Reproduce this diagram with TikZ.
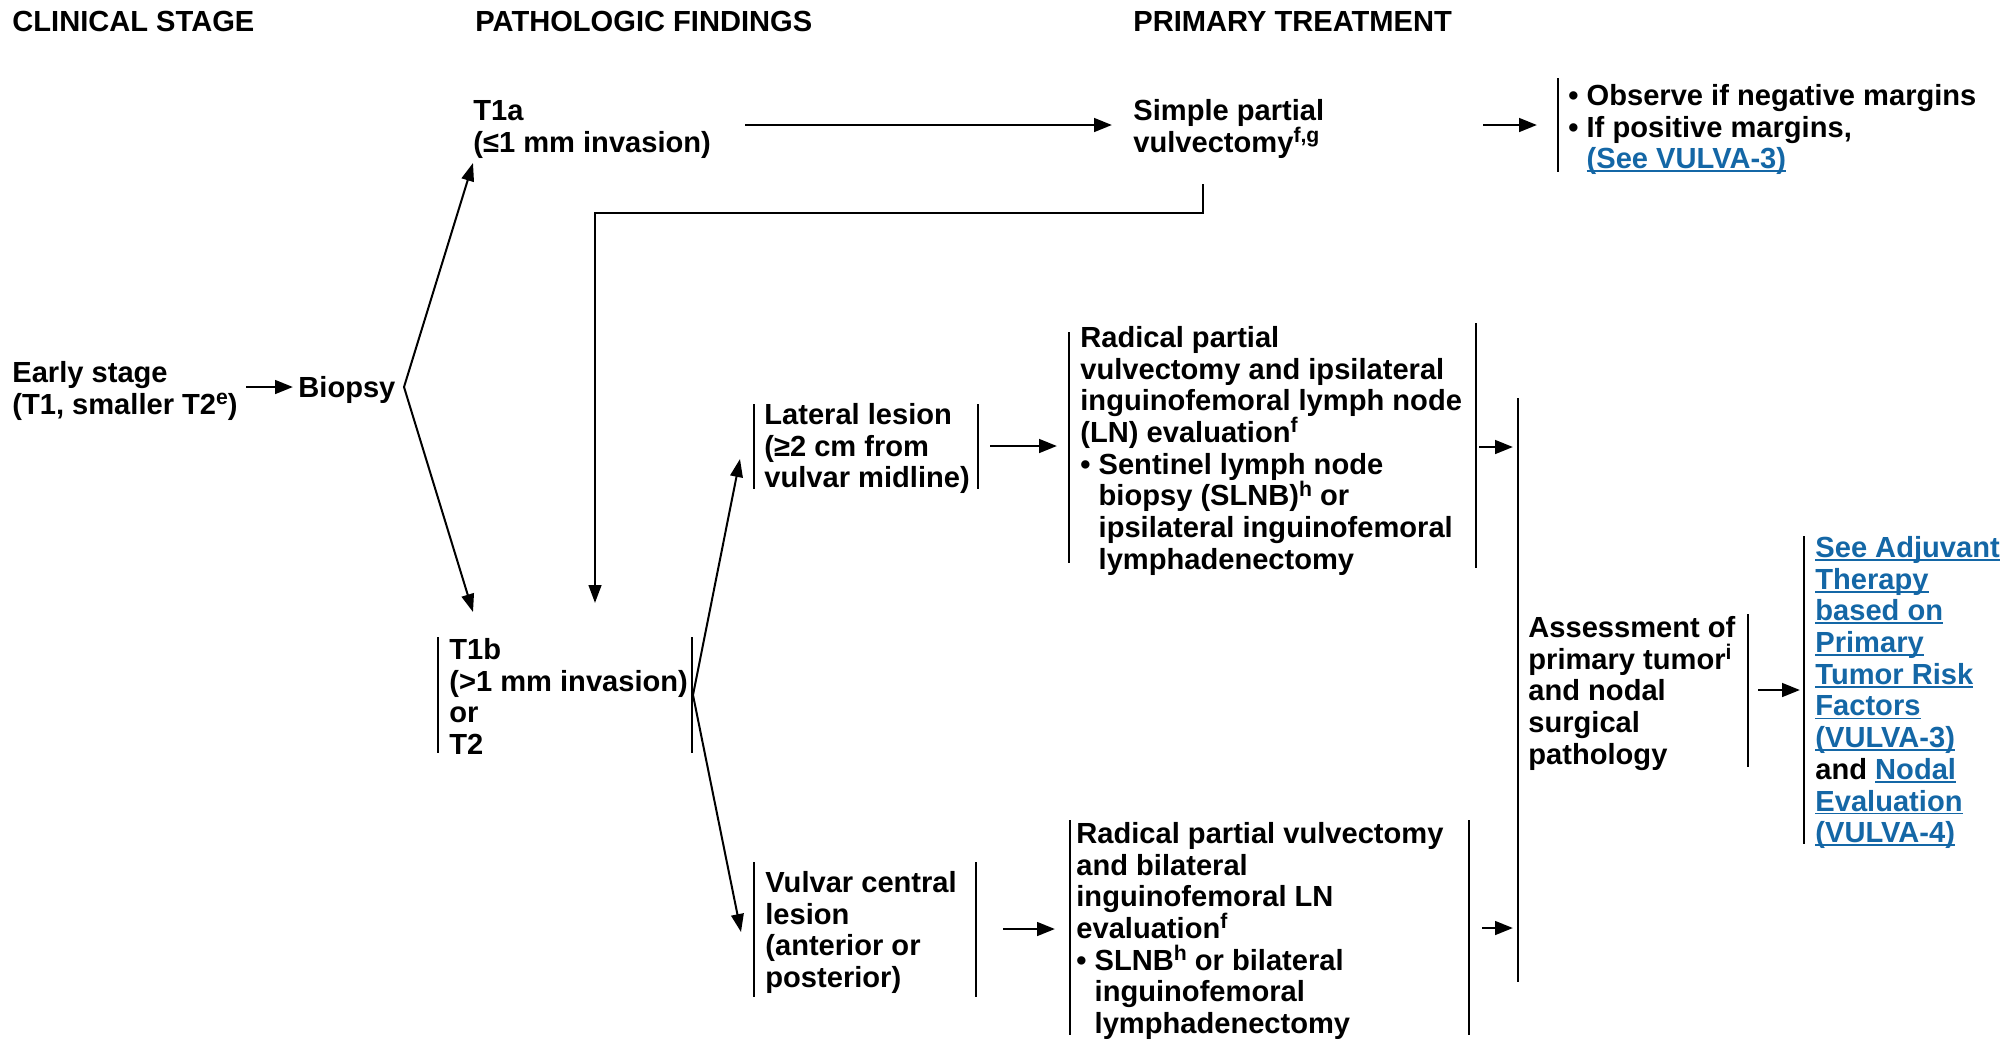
\documentclass[tikz,border=0pt]{standalone}
\usepackage{fontspec}
\setmainfont{Liberation Sans}
\usetikzlibrary{arrows.meta}
\definecolor{linkblue}{RGB}{20,103,166}
% footnote letters
\newcommand\sups[1]{\raisebox{0.34em}{\fontsize{10.6pt}{10.6pt}\selectfont #1}}
% fixes the height of the first line of every text block
\newcommand\topstrut{\rule{0pt}{12pt}}
% blue underlined cross-reference
\newcommand\lnk[1]{{\color{linkblue}\setbox0\hbox{#1}\rlap{\rule[-1.7pt]{\wd0}{0.9pt}}\box0}}
\begin{document}
\begin{tikzpicture}[x=0.5pt,y=-0.5pt,
  txt/.style={inner sep=0pt, anchor=north west, align=left,
    font={\fontsize{14.55pt}{15.85pt}\selectfont\bfseries\lineskiplimit=-100pt}},
  bar/.style={line width=1.3pt},
  arr/.style={line width=1.4pt, -{Triangle[length=9pt,width=6.8pt]}},
  fork/.style={line width=1pt, -{Triangle[length=9pt,width=6.3pt]}},
  loop/.style={line width=1.3pt, -{Triangle[length=9pt,width=6.3pt]}}]
\useasboundingbox (0,0) rectangle (2015,1041);

% column headings
\node[txt] (h1) at (12,7) {\topstrut CLINICAL STAGE};
\node[txt] (h2) at (475,7) {\topstrut PATHOLOGIC FINDINGS};
\node[txt] (h3) at (1133,7) {\topstrut PRIMARY TREATMENT};

% text blocks
\node[txt] (early) at (12,358) {\topstrut Early stage\\(T1, smaller T2\sups{e})};
\node[txt] (biopsy) at (298,373) {\topstrut Biopsy};
\node[txt] (t1a) at (473,96) {\topstrut T1a\\(≤1 mm invasion)};
\node[txt] (simple) at (1133,96) {\topstrut Simple partial\\vulvectomy\sups{f,g}};
\node[txt] (observe) at (1568,81) {\topstrut • Observe if negative margins\\• If positive margins,\\\phantom{• }\lnk{(See VULVA-3)}};
\node[txt] (t1b) at (449,635) {\topstrut T1b\\(>1 mm invasion)\\or\\T2};
\node[txt] (lateral) at (764,400) {\topstrut Lateral lesion\\(≥2 cm from\\vulvar midline)};
\node[txt] (radA) at (1080,323) {\topstrut Radical partial\\vulvectomy and ipsilateral\\inguinofemoral lymph node\\(LN) evaluation\sups{f}\\• Sentinel lymph node\\\phantom{• }biopsy (SLNB)\sups{h} or\\\phantom{• }ipsilateral inguinofemoral\\\phantom{• }lymphadenectomy};
\node[txt] (central) at (765,868) {\topstrut Vulvar central\\lesion\\(anterior or\\posterior)};
\node[txt] (radB) at (1076,819) {\topstrut Radical partial vulvectomy\\and bilateral\\inguinofemoral LN\\evaluation\sups{f}\\• SLNB\sups{h} or bilateral\\\phantom{• }inguinofemoral\\\phantom{• }lymphadenectomy};
\node[txt] (assess) at (1528,613) {\topstrut Assessment of\\primary tumor\sups{i}\\and nodal\\surgical\\pathology};
\node[txt] (adjuvant) at (1815,533) {\topstrut\lnk{See Adjuvant}\\\lnk{Therapy}\\\lnk{based on}\\\lnk{Primary}\\\lnk{Tumor Risk}\\\lnk{Factors}\\\lnk{(VULVA-3)}\\and \lnk{Nodal}\\\lnk{Evaluation}\\\lnk{(VULVA-4)}};

% side bars of the bracketed blocks
\draw[bar] (1558,78) -- (1558,172);
\draw[bar] (438,637) -- (438,753);  \draw[bar] (692,637) -- (692,753);
\draw[bar] (754,404) -- (754,489);  \draw[bar] (978,404) -- (978,489);
\draw[bar] (1069,332) -- (1069,563); \draw[bar] (1476,323) -- (1476,568);
\draw[bar] (754,862) -- (754,997);  \draw[bar] (976,862) -- (976,997);
\draw[bar] (1070,820) -- (1070,1035); \draw[bar] (1469,820) -- (1469,1035);
\draw[bar] (1518,398) -- (1518,982);
\draw[bar] (1748,614) -- (1748,767);
\draw[bar] (1804,536) -- (1804,844);

% connector end points
\coordinate (earlyOut) at (246,387);
\coordinate (biopsyIn) at (293,387);
\coordinate (biopsyFork) at (404,387);
\coordinate (t1aIn) at (473,163);
\coordinate (t1bIn) at (473,612);
\coordinate (t1aOut) at (745,125);
\coordinate (simpleIn) at (1112,125);
\coordinate (simpleOut) at (1483,125);
\coordinate (observeIn) at (1537,125);
\coordinate (simpleDrop) at (1203,184);
\coordinate (t1bDrop) at (595,603);
\coordinate (t1bFork) at (693,695);
\coordinate (lateralIn) at (740,459);
\coordinate (centralIn) at (741,932);
\coordinate (lateralOut) at (990,446);
\coordinate (radAIn) at (1057,446);
\coordinate (centralOut) at (1003,929);
\coordinate (radBIn) at (1055,929);
\coordinate (radAOut) at (1479,447);
\coordinate (assessInA) at (1513,447);
\coordinate (radBOut) at (1482,928);
\coordinate (assessInB) at (1513,928);
\coordinate (assessOut) at (1758,690);
\coordinate (adjuvantIn) at (1800,690);

% connectors
\draw[arr] (earlyOut) -- (biopsyIn);
\draw[fork] (biopsyFork) -- (t1aIn);
\draw[fork] (biopsyFork) -- (t1bIn);
\draw[arr] (t1aOut) -- (simpleIn);
\draw[arr] (simpleOut) -- (observeIn);
\draw[loop] (simpleDrop) -- ++(0,29) -| (t1bDrop);
\draw[fork] (t1bFork) -- (lateralIn);
\draw[fork] (t1bFork) -- (centralIn);
\draw[arr] (lateralOut) -- (radAIn);
\draw[arr] (centralOut) -- (radBIn);
\draw[arr] (radAOut) -- (assessInA);
\draw[arr] (radBOut) -- (assessInB);
\draw[arr] (assessOut) -- (adjuvantIn);
\end{tikzpicture}
\end{document}
